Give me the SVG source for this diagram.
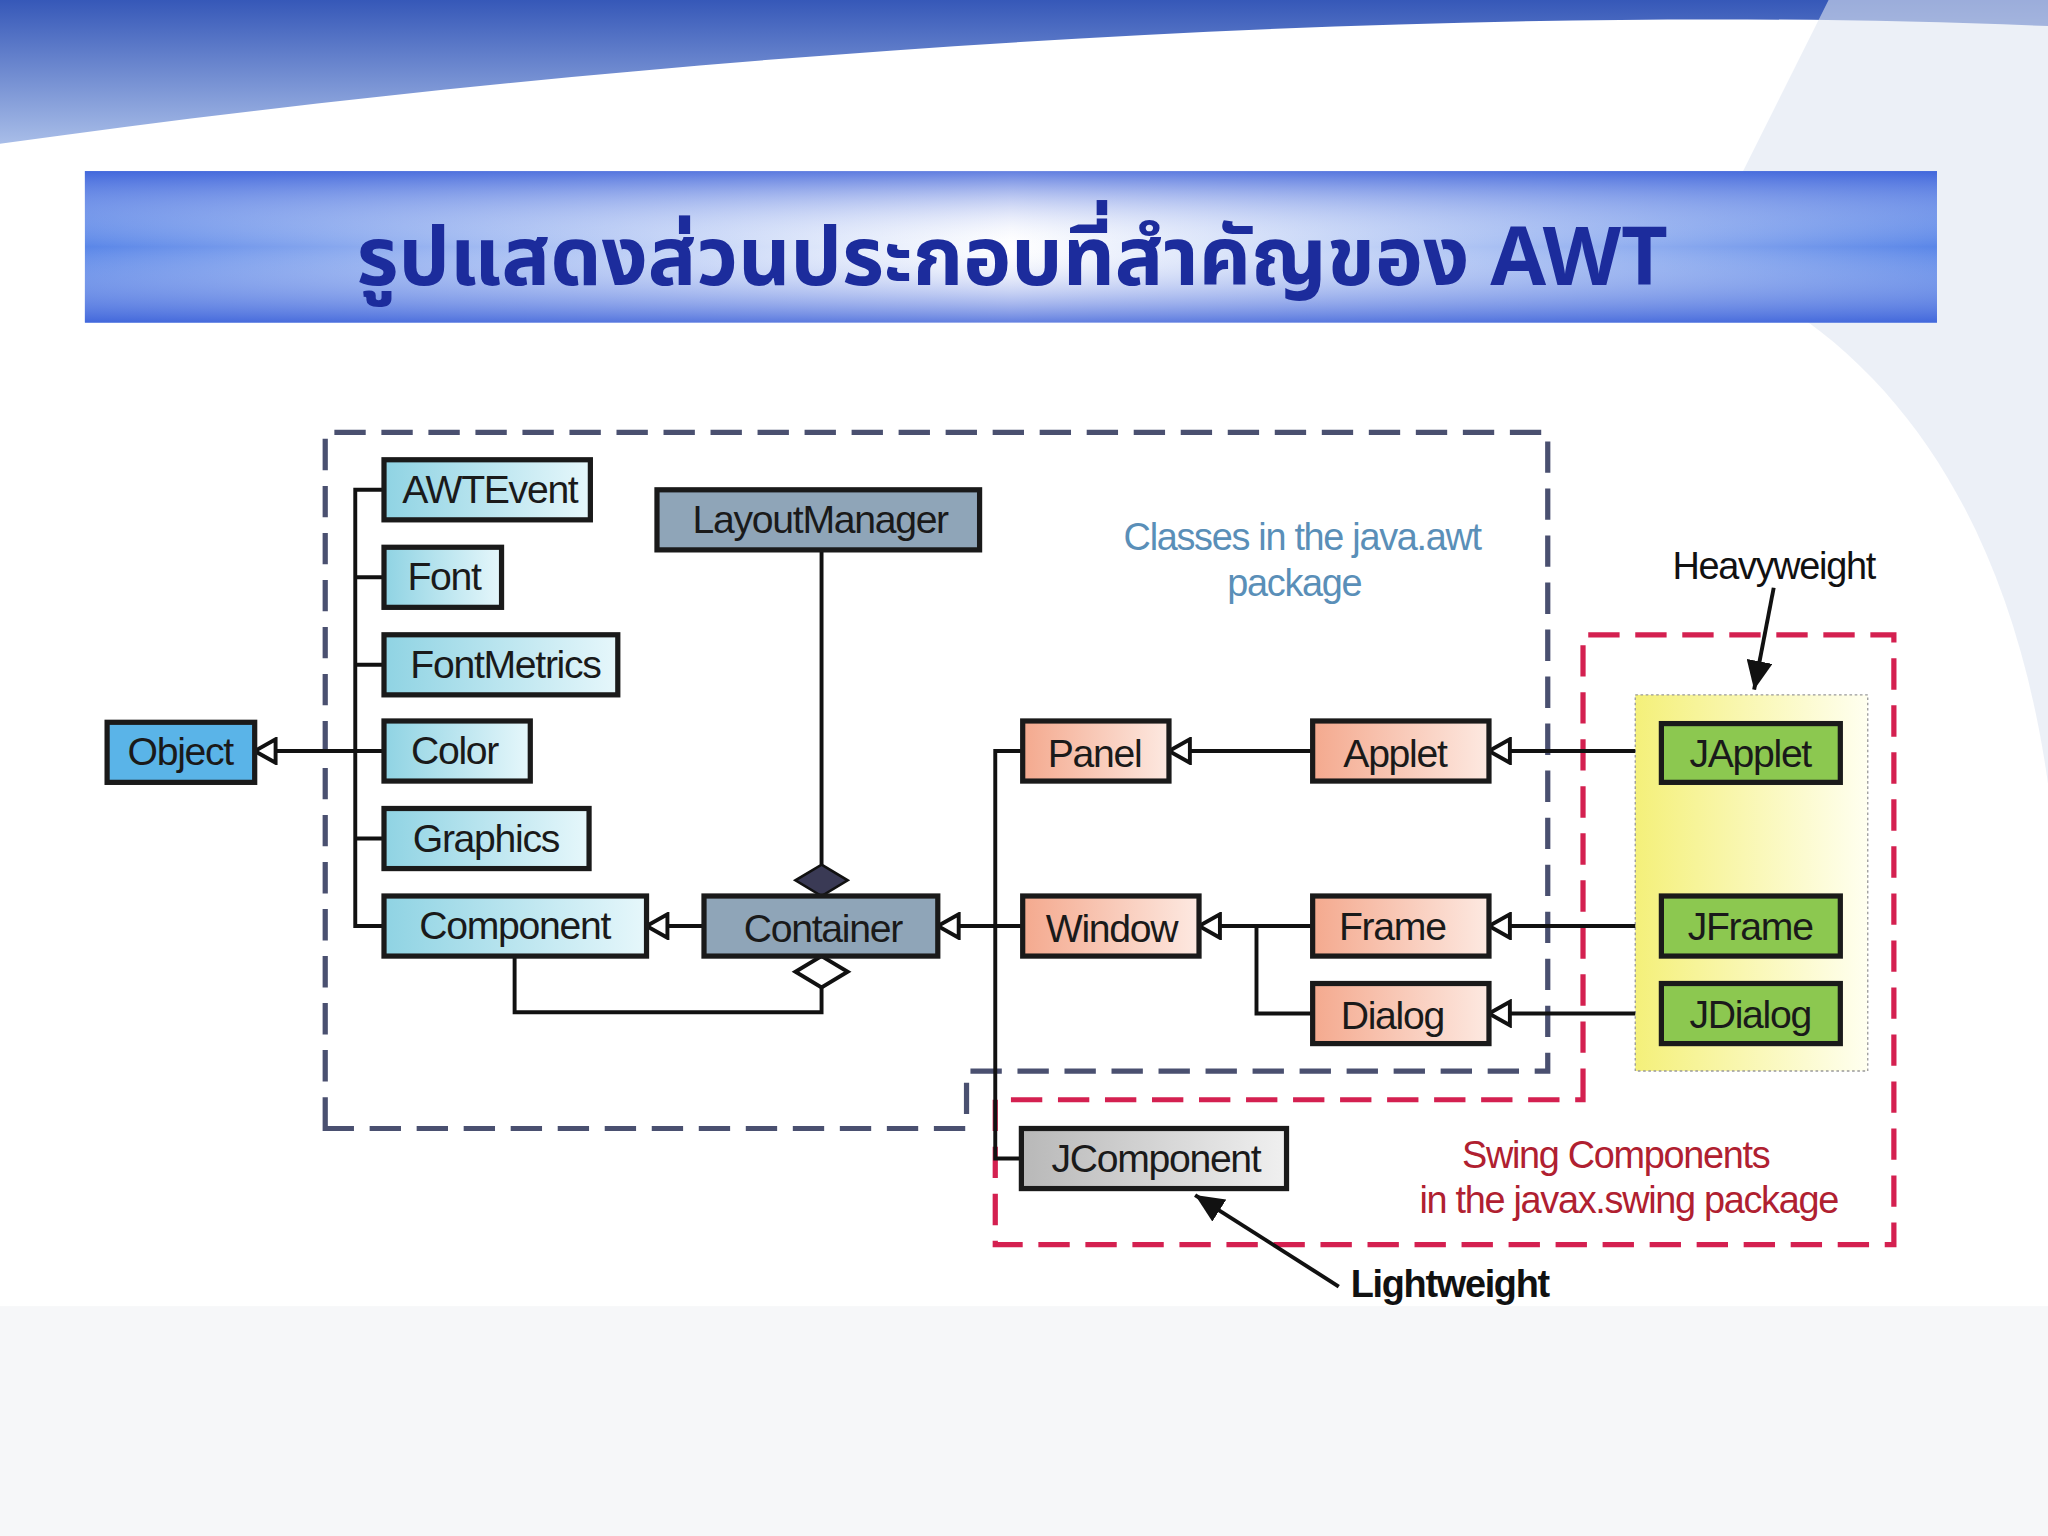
<svg xmlns="http://www.w3.org/2000/svg" width="2048" height="1536" viewBox="0 0 2048 1536">
<defs>
<linearGradient id="ban" x1="0" y1="0" x2="1" y2="0"><stop offset="0" stop-color="#5a86e8"/><stop offset="0.5" stop-color="#ffffff"/><stop offset="1" stop-color="#5a86e8"/></linearGradient>
<linearGradient id="banv" x1="0" y1="0" x2="0" y2="1"><stop offset="0" stop-color="#3b5fd8" stop-opacity="0.8"/><stop offset="0.5" stop-color="#ffffff" stop-opacity="0"/><stop offset="1" stop-color="#3b5fd8" stop-opacity="0.8"/></linearGradient>
<linearGradient id="cy" x1="0" y1="0" x2="1" y2="0"><stop offset="0" stop-color="#8fd3e3"/><stop offset="1" stop-color="#e6f7fb"/></linearGradient>
<linearGradient id="sa" x1="0" y1="0" x2="1" y2="0"><stop offset="0" stop-color="#f4a98e"/><stop offset="1" stop-color="#fde9e1"/></linearGradient>
<linearGradient id="gr" x1="0" y1="0" x2="1" y2="0"><stop offset="0" stop-color="#b8b8b8"/><stop offset="1" stop-color="#f0f0f0"/></linearGradient>
<linearGradient id="ye" x1="0" y1="0" x2="1" y2="0"><stop offset="0" stop-color="#f4f07a"/><stop offset="1" stop-color="#fffff0"/></linearGradient>
<linearGradient id="top" x1="0" y1="0" x2="0" y2="1"><stop offset="0" stop-color="#3658b8"/><stop offset="1" stop-color="#a8bde8"/></linearGradient>
<marker id="tri" markerUnits="userSpaceOnUse" markerWidth="22" markerHeight="22" refX="18" refY="11" orient="auto"><path d="M2,2 L18,11 L2,20 z" fill="#fff" stroke="#111" stroke-width="3"/></marker>
<marker id="arr" markerUnits="userSpaceOnUse" markerWidth="24" markerHeight="20" refX="22" refY="10" orient="auto"><path d="M0,0 L22,10 L0,20 z" fill="#111"/></marker>
</defs>
<style>
.n rect{stroke:#1a1a1a;stroke-width:4}
.n text{font-family:"Liberation Sans",Arial,sans-serif;font-size:30px;fill:#1a1a1a;text-anchor:middle;letter-spacing:-1px}
.c{fill:none;stroke:#111;stroke-width:3}
.lbl{font-family:"Liberation Sans",Arial,sans-serif;font-size:29px;text-anchor:middle;letter-spacing:-1px}
</style>
<g transform="scale(1.30612)">
<rect width="1568" height="1176" fill="#ffffff"/>
<path d="M0,0 H1568 V20 C1100,0 500,40 0,110 Z" fill="url(#top)"/>
<path d="M1300,200 C1450,260 1540,400 1568,600 V0 H1400 Z" fill="#dfe6f2" opacity="0.6"/>
<rect x="0" y="1000" width="1568" height="176" fill="#f6f7f9"/>
<g id="title">
<rect x="65" y="131" width="1418" height="116" fill="url(#ban)"/>
<rect x="65" y="131" width="1418" height="116" fill="url(#banv)"/>
<text x="775" y="218" font-family="'Noto Sans Thai','Noto Sans','DejaVu Sans',sans-serif" font-size="62" font-weight="bold" fill="#1c2c9c" text-anchor="middle">รูปแสดงส่วนประกอบที่สำคัญของ AWT</text>
</g>
<path d="M249,864 V331 H1185 V820 H740 V864 Z" fill="none" stroke="#4a5070" stroke-width="4" stroke-dasharray="24 12"/>
<rect x="1252" y="532" width="178" height="288" fill="url(#ye)" stroke="#999" stroke-width="1" stroke-dasharray="2 2"/>
<path d="M1212,842 V486 H1450 V953 H762 V842 Z" fill="none" stroke="#d42050" stroke-width="4" stroke-dasharray="24 12"/>
<text class="lbl" x="997" y="421" fill="#5a8fb8">Classes in the java.awt</text>
<text class="lbl" x="991" y="456" fill="#5a8fb8">package</text>
<text class="lbl" x="1237" y="894" fill="#b02030">Swing Components</text>
<text class="lbl" x="1247" y="929" fill="#b02030">in the javax.swing package</text>
<text class="lbl" x="1358" y="443" fill="#111">Heavyweight</text>
<text class="lbl" x="1110" y="993" fill="#111" font-weight="bold">Lightweight</text>
<g id="connectors">
<path class="c" d="M272,575 H195" marker-end="url(#tri)"/>
<path class="c" d="M294,375 H272 V709 H294 M272,442 H294 M272,509 H294 M272,575 H294 M272,642 H294"/>
<path class="c" d="M539,709 H495" marker-end="url(#tri)"/>
<path class="c" d="M762,709 H718" marker-end="url(#tri)"/>
<path class="c" d="M783,575 H762 V887 H782 M762,709 H783"/>
<path class="c" d="M1005,575 H895" marker-end="url(#tri)"/>
<path class="c" d="M1252,575 H1140" marker-end="url(#tri)"/>
<path class="c" d="M962,709 H918" marker-end="url(#tri)"/>
<path class="c" d="M1005,709 H962 V776 H1005"/>
<path class="c" d="M1252,709 H1140" marker-end="url(#tri)"/>
<path class="c" d="M1252,776 H1140" marker-end="url(#tri)"/>
<path class="c" d="M629,421 V662"/>
<path d="M629,662 L649,674 L629,686 L609,674 Z" fill="#3a3a55" stroke="#111" stroke-width="2"/>
<path d="M629,732 L649,744 L629,756 L609,744 Z" fill="#fff" stroke="#111" stroke-width="3"/>
<path class="c" d="M629,756 V775 H394 V732"/>
<path class="c" d="M1358,450 L1343,528" marker-end="url(#arr)"/>
<path class="c" d="M1025,985 L915,915" marker-end="url(#arr)"/>
</g>
<g id="Object" class="n"><rect x="82" y="553" width="113" height="46" fill="#5ab4e8"/><text x="138" y="586">Object</text></g>
<g id="AWTEvent" class="n"><rect x="294" y="352" width="158" height="46" fill="url(#cy)"/><text x="375" y="385">AWTEvent</text></g>
<g id="Font" class="n"><rect x="294" y="419" width="90" height="46" fill="url(#cy)"/><text x="340" y="452">Font</text></g>
<g id="FontMetrics" class="n"><rect x="294" y="486" width="179" height="46" fill="url(#cy)"/><text x="387" y="519">FontMetrics</text></g>
<g id="Color" class="n"><rect x="294" y="552" width="112" height="46" fill="url(#cy)"/><text x="348" y="585">Color</text></g>
<g id="Graphics" class="n"><rect x="294" y="619" width="157" height="46" fill="url(#cy)"/><text x="372" y="652">Graphics</text></g>
<g id="Component" class="n"><rect x="294" y="686" width="201" height="46" fill="url(#cy)"/><text x="394" y="719">Component</text></g>
<g id="LayoutManager" class="n"><rect x="503" y="375" width="247" height="46" fill="#8fa5b8"/><text x="628" y="408">LayoutManager</text></g>
<g id="Container" class="n"><rect x="539" y="686" width="179" height="46" fill="#8fa5b8"/><text x="630" y="721">Container</text></g>
<g id="Panel" class="n"><rect x="783" y="552" width="112" height="46" fill="url(#sa)"/><text x="838" y="587">Panel</text></g>
<g id="Applet" class="n"><rect x="1005" y="552" width="135" height="46" fill="url(#sa)"/><text x="1068" y="587">Applet</text></g>
<g id="Window" class="n"><rect x="783" y="686" width="135" height="46" fill="url(#sa)"/><text x="851" y="721">Window</text></g>
<g id="Frame" class="n"><rect x="1005" y="686" width="135" height="46" fill="url(#sa)"/><text x="1066" y="720">Frame</text></g>
<g id="Dialog" class="n"><rect x="1005" y="753" width="135" height="46" fill="url(#sa)"/><text x="1066" y="788">Dialog</text></g>
<g id="JApplet" class="n"><rect x="1272" y="554" width="137" height="45" fill="#8cc850"/><text x="1340" y="587">JApplet</text></g>
<g id="JFrame" class="n"><rect x="1272" y="686" width="137" height="46" fill="#8cc850"/><text x="1340" y="720">JFrame</text></g>
<g id="JDialog" class="n"><rect x="1272" y="753" width="137" height="46" fill="#8cc850"/><text x="1340" y="787">JDialog</text></g>
<g id="JComponent" class="n"><rect x="782" y="864" width="203" height="46" fill="url(#gr)"/><text x="885" y="897">JComponent</text></g>
</g>
</svg>
